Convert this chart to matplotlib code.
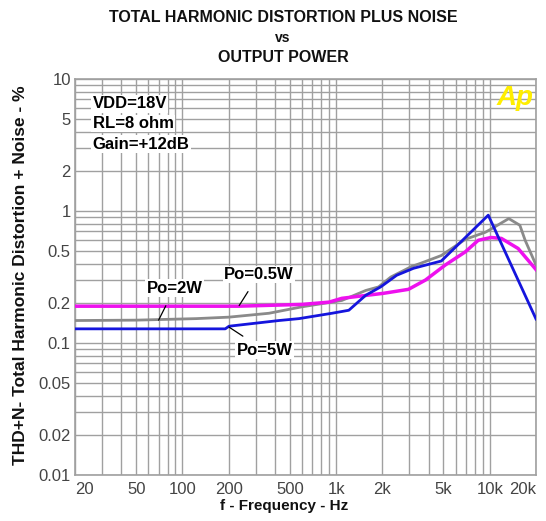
import matplotlib
matplotlib.use("Agg")
import matplotlib.pyplot as plt
from matplotlib.ticker import FixedLocator, FixedFormatter, NullFormatter, LogLocator

# Data
f_05w = [20, 230, 600, 900, 1090, 2040, 2960, 3820, 5140, 6930, 8420, 10200, 11900, 15300, 20000]
thd_05w = [0.19, 0.19, 0.196, 0.204, 0.218, 0.238, 0.255, 0.30, 0.39, 0.49, 0.60, 0.63, 0.62, 0.52, 0.36]

f_2w = [20, 50, 123, 201, 366, 600, 1090, 1560, 1890, 2270, 3100, 3600, 4840, 6930, 9360, 10200, 13300, 15700, 17000, 20000]
thd_2w = [0.148, 0.149, 0.153, 0.157, 0.168, 0.188, 0.21, 0.25, 0.266, 0.316, 0.38, 0.404, 0.46, 0.61, 0.69, 0.73, 0.876, 0.78, 0.60, 0.39]

f_5w = [20, 190, 201, 425, 574, 940, 1210, 1560, 1950, 2480, 3190, 4840, 9780, 20000]
thd_5w = [0.128, 0.128, 0.134, 0.148, 0.153, 0.168, 0.177, 0.23, 0.266, 0.326, 0.368, 0.418, 0.93, 0.152]

xticks = [20, 50, 100, 200, 500, 1000, 2000, 5000, 10000, 20000]
xticklabels = ["20", "50", "100", "200", "500", "1k", "2k", "5k", "10k", "20k"]
yticks = [0.01, 0.02, 0.05, 0.1, 0.2, 0.5, 1, 2, 5, 10]
yticklabels = ["0.01", "0.02", "0.05", "0.1", "0.2", "0.5", "1", "2", "5", "10"]

plt.rcParams['font.family'] = ['Liberation Sans', 'DejaVu Sans']

fig = plt.figure(figsize=(5.46, 5.21), dpi=100)
ax = fig.add_axes([75/546, 1-475/521, (536-75)/546, (475-79)/521])
ax.set_xscale('log')
ax.set_yscale('log')
ax.set_xlim(20, 20000)
ax.set_ylim(0.01, 10)

gridc = '#a0a0a0'
ax.xaxis.set_major_locator(FixedLocator(xticks))
ax.xaxis.set_major_formatter(FixedFormatter(xticklabels))
ax.xaxis.set_minor_locator(LogLocator(base=10, subs=range(1, 10), numticks=20))
ax.xaxis.set_minor_formatter(NullFormatter())
ax.yaxis.set_major_locator(FixedLocator(yticks))
ax.yaxis.set_major_formatter(FixedFormatter(yticklabels))
ax.yaxis.set_minor_locator(LogLocator(base=10, subs=range(1, 10), numticks=20))
ax.yaxis.set_minor_formatter(NullFormatter())
ax.grid(True, which='both', color=gridc, linewidth=1.0)
ax.set_axisbelow(True)
ax.tick_params(which='both', length=0, labelsize=12, colors='#444444')
ax.tick_params(axis='x', pad=5)
ax.tick_params(axis='y', pad=3)
xl = ax.get_xticklabels()
xl[0].set_ha('left')
xl[-1].set_ha('right')
for s in ax.spines.values():
    s.set_color(gridc)
    s.set_linewidth(1.2)

ax.plot(f_2w, thd_2w, color='#8a8a8a', lw=2.0, zorder=3)
ax.plot(f_05w, thd_05w, color='#ee11ee', lw=2.5, zorder=4)
ax.plot(f_5w, thd_5w, color='#1515dd', lw=2.0, zorder=5)

box = dict(facecolor='white', edgecolor='none', pad=1.0)
tkw = dict(fontsize=12, fontweight='bold', color='black', zorder=6)
ax.text(26, 6.5, "VDD=18V", ha='left', va='center', bbox=box, **tkw)
ax.text(26, 4.6, "RL=8 ohm", ha='left', va='center', bbox=box, **tkw)
ax.text(26, 3.2, "Gain=+12dB", ha='left', va='center', bbox=box, **tkw)

# Curve labels with leader lines
akw = dict(arrowstyle='-', color='black', lw=0.9, shrinkA=7, shrinkB=0)
ax.annotate("Po=2W", xy=(70, 0.149), xytext=(89, 0.26), ha='center', va='center',
            bbox=box, arrowprops=akw, **tkw)
ax.annotate("Po=0.5W", xy=(234, 0.192), xytext=(314, 0.33), ha='center', va='center',
            bbox=box, arrowprops=akw, **tkw)
ax.annotate("Po=5W", xy=(201, 0.132), xytext=(342, 0.088), ha='center', va='center',
            bbox=box, arrowprops=akw, **tkw)

ax.text(0.995, 0.985, "Ap", transform=ax.transAxes, ha='right', va='top',
        fontsize=20, fontweight='bold', style='italic', color='#ffee00', zorder=6)

fig.text(283/546, 1-17/521, "TOTAL HARMONIC DISTORTION PLUS NOISE", ha='center', va='center',
         fontsize=11.5, fontweight='bold', color='#111111')
fig.text(283/546, 1-38/521, "vs", ha='center', va='center',
         fontsize=10, fontweight='bold', color='#111111')
fig.text(283/546, 1-57/521, "OUTPUT POWER", ha='center', va='center',
         fontsize=11.5, fontweight='bold', color='#111111')
fig.text(284/546, 1-506/521, "f - Frequency - Hz", ha='center', va='center',
         fontsize=11, fontweight='bold', color='#111111')
fig.text(21/546, 1-275/521, "THD+N- Total Harmonic Distortion + Noise - %", ha='center',
         va='center', rotation=90, fontsize=12.5, fontweight='bold', color='#111111')

fig.savefig("out.png", dpi=100)
